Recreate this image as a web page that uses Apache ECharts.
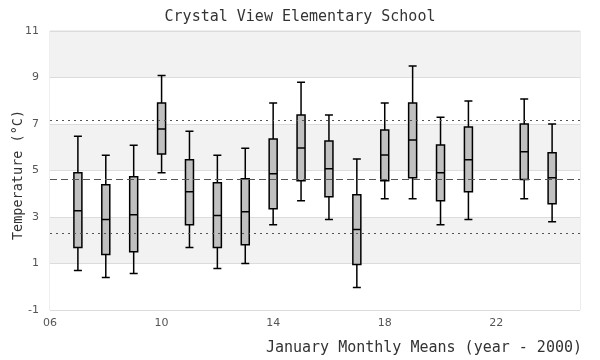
<!DOCTYPE html>
<html>
<head>
<meta charset="utf-8">
<script src="https://cdn.jsdelivr.net/npm/echarts@6/dist/echarts.min.js"></script>
<style>html,body{margin:0;padding:0;background:#fff;}#chart{width:600px;height:360px;}</style>
</head>
<body>
<div id="chart"></div>
<script>
const years   = [7, 8, 9, 10, 11, 12, 13, 14, 15, 16, 17, 18, 19, 20, 21, 23, 24];
const mins    = [0.70, 0.40, 0.57, 4.90, 1.69, 0.79, 1.00, 2.67, 3.70, 2.89, -0.03, 3.79, 3.79, 2.67, 2.89, 3.79, 2.80];
const q1s     = [1.69, 1.39, 1.51, 5.71, 2.67, 1.69, 1.81, 3.36, 4.56, 3.87, 0.96, 4.56, 4.69, 3.70, 4.09, 4.61, 3.57];
const medians = [3.27, 2.89, 3.10, 6.79, 4.09, 3.06, 3.23, 4.86, 5.97, 5.07, 2.46, 5.67, 6.31, 4.90, 5.46, 5.81, 4.69];
const q3s     = [4.90, 4.39, 4.73, 7.90, 5.46, 4.47, 4.64, 6.36, 7.39, 6.27, 3.96, 6.74, 7.90, 6.10, 6.87, 7.00, 5.76];
const maxs    = [6.47, 5.66, 6.09, 9.09, 6.69, 5.66, 5.96, 7.90, 8.80, 7.39, 5.50, 7.90, 9.49, 7.29, 7.99, 8.07, 7.00];
const meanLine = 4.62;
const sdUpper  = 7.17;
const sdLower  = 2.30;
const xAxisTitle = 'January Monthly Means (year - 2000)';
const yAxisTitle = 'Temperature (°C)';

const boxData = years.map((y, i) => [y, mins[i], q1s[i], medians[i], q3s[i], maxs[i]]);

const chart = echarts.init(document.getElementById('chart'), null, {renderer: 'canvas'});
const mono = '"DejaVu Sans Mono", monospace';
chart.setOption({
  animation: false,
  backgroundColor: '#ffffff',
  title: [{
    text: 'Crystal View Elementary School',
    left: 'center',
    top: 5,
    textStyle: {fontFamily: mono, fontSize: 15, fontWeight: 'normal', color: '#333'}
  }, {
    text: xAxisTitle,
    right: 13,
    top: 336,
    textStyle: {fontFamily: mono, fontSize: 15, fontWeight: 'normal', color: '#333'}
  }],
  graphic: [{
    type: 'text',
    x: 18, y: 175,
    rotation: Math.PI / 2,
    style: {text: yAxisTitle, align: 'center', verticalAlign: 'middle',
            font: '13.5px "DejaVu Sans Mono", monospace', fill: '#333'}
  }],
  grid: {left: 50, right: 20, top: 31, bottom: 50, show: true, borderColor: '#dcdcdc', borderWidth: 1,
         containLabel: false, outerBoundsMode: 'none'},
  xAxis: {
    type: 'value',
    min: 6, max: 25, interval: 4,
    axisLine: {show: false},
    axisTick: {show: false},
    splitLine: {show: false},
    axisLabel: {
      showMaxLabel: false,
      margin: 8,
      color: '#555', fontFamily: '"DejaVu Sans", sans-serif', fontSize: 11,
      formatter: v => String(v).padStart(2, '0')
    }
  },
  yAxis: {
    type: 'value',
    min: -1, max: 11, interval: 2,
    axisLine: {show: false},
    axisTick: {show: false},
    splitLine: {show: true, lineStyle: {color: '#dcdcdc', width: 1}},
    splitArea: {show: true, areaStyle: {color: ['#ffffff', '#f2f2f2']}},
    axisLabel: {margin: 11, color: '#555', fontFamily: '"DejaVu Sans", sans-serif', fontSize: 11}
  },
  series: [{
    type: 'boxplot',
    data: boxData,
    boxWidth: [8, 8],
    itemStyle: {color: '#c0c0c0', borderColor: '#000', borderWidth: 1.5},
    markLine: {
      silent: true,
      symbol: 'none',
      label: {show: false},
      data: [
        {yAxis: sdUpper, lineStyle: {color: '#555', width: 1.2, type: [2, 4]}},
        {yAxis: meanLine, lineStyle: {color: '#555', width: 1.2, type: [7, 4]}},
        {yAxis: sdLower, lineStyle: {color: '#555', width: 1.2, type: [2, 4]}}
      ]
    }
  }]
});
</script>
</body>
</html>
